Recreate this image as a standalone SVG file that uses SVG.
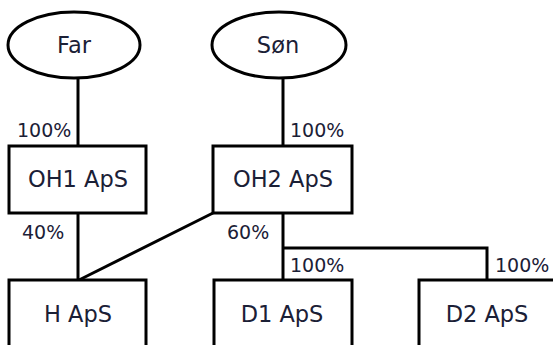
<svg xmlns="http://www.w3.org/2000/svg" width="553" height="345" viewBox="0 0 553 345">
<style>
.n{fill:#fff;stroke:#000;stroke-width:3}
.c{fill:none;stroke:#000;stroke-width:3}
.t{font-family:"DejaVu Sans",Verdana,sans-serif;font-size:22.5px;fill:#1b2036;text-anchor:middle}
.p{font-family:"DejaVu Sans",Verdana,sans-serif;font-size:19px;fill:#1b2036}
</style>
<rect width="553" height="345" fill="#fff"/>
<g id="connectors">
<line class="c" x1="78" y1="78" x2="78" y2="146"/>
<line class="c" x1="283" y1="78" x2="283" y2="146"/>
<line class="c" x1="78" y1="213" x2="78" y2="280"/>
<line class="c" x1="213" y1="213" x2="79" y2="280"/>
<polyline class="c" points="283,213 283,280"/>
<polyline class="c" points="283,248 487,248 487,280"/>
<text class="p" x="17" y="137">100%</text>
<text class="p" x="290" y="137">100%</text>
<text class="p" x="22" y="239">40%</text>
<text class="p" x="227" y="239">60%</text>
<text class="p" x="290" y="272">100%</text>
<text class="p" x="495" y="272">100%</text>
</g>
<g id="far"><ellipse class="n" cx="74" cy="45" rx="66" ry="33"/><text class="t" x="74" y="53">Far</text></g>
<g id="son"><ellipse class="n" cx="279" cy="45" rx="67" ry="33"/><text class="t" x="278" y="53">Søn</text></g>
<g id="oh1"><rect class="n" x="9" y="146" width="137" height="67"/><text class="t" x="78" y="187">OH1 ApS</text></g>
<g id="oh2"><rect class="n" x="213" y="146" width="139" height="67"/><text class="t" x="283" y="187">OH2 ApS</text></g>
<g id="h"><rect class="n" x="9" y="280" width="137" height="70"/><text class="t" x="78" y="322">H ApS</text></g>
<g id="d1"><rect class="n" x="214" y="280" width="138" height="70"/><text class="t" x="282" y="322">D1 ApS</text></g>
<g id="d2"><rect class="n" x="419" y="280" width="140" height="70"/><text class="t" x="487" y="322">D2 ApS</text></g>
</svg>
